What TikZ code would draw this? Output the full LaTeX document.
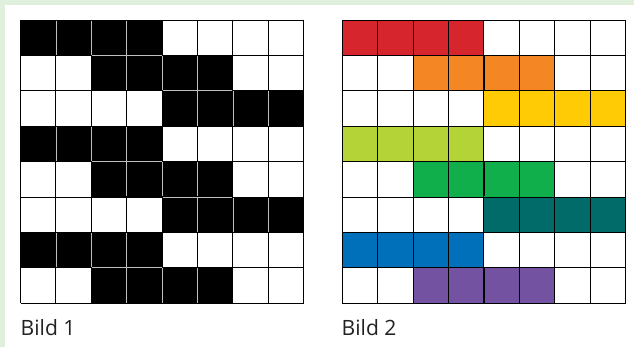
\documentclass[tikz,border=0pt]{standalone}
\usepackage{fontspec}
\setmainfont{Open Sans}

\definecolor{bgframe}{HTML}{E1F0DD}
\definecolor{pxred}{HTML}{D6252D}
\definecolor{pxorange}{HTML}{F48623}
\definecolor{pxyellow}{HTML}{FFCB05}
\definecolor{pxlime}{HTML}{B4D336}
\definecolor{pxgreen}{HTML}{10AF4B}
\definecolor{pxteal}{HTML}{006B68}
\definecolor{pxblue}{HTML}{0070BA}
\definecolor{pxpurple}{HTML}{7352A2}
\definecolor{captiongray}{HTML}{222222}

\begin{document}
\begin{tikzpicture}[x=0.03cm,y=-0.03cm]
  \useasboundingbox (0,0) rectangle (634,347);
  \fill[bgframe] (0,0) rectangle (634,347);
  \fill[white] (5,5) rectangle (634,347);
  % --- Helper: \pixelgrid{xshift}{c0,...,c7}{inner line colour} ---
  % 8x8 grid, row r has four filled cells starting at column 2*(r mod 3),
  % filled with the r-th colour of the list; lines between two filled
  % cells are drawn again in the inner line colour.
  \newcommand{\pixelgrid}[3]{%
    \begin{scope}[shift={(#1,20)}]
      \foreach \col [count=\r from 0] in {#2} {
        \pgfmathtruncatemacro{\s}{2*mod(\r,3)}
        \fill[\col] (\s*35.4,\r*35.4) rectangle ++(4*35.4,35.4);
      }
      \foreach \i in {0,...,8} {
        \draw[line width=0.8pt] (\i*35.4,0) -- (\i*35.4,283.2);
        \draw[line width=0.8pt] (0,\i*35.4) -- (283.2,\i*35.4);
      }
      \foreach \r in {0,...,7} {
        \pgfmathtruncatemacro{\s}{2*mod(\r,3)}
        \pgfmathtruncatemacro{\t}{2*mod(\r+1,3)}
        \pgfmathtruncatemacro{\lo}{max(\s,\t)}
        \pgfmathtruncatemacro{\hi}{min(\s,\t)+4}
        \foreach \k in {1,2,3}
          \draw[#3, line width=0.6pt] ({(\s+\k)*35.4},{\r*35.4+0.6}) -- ++(0,34.2);
        \ifnum\r<7 \ifnum\hi>\lo
          \draw[#3, line width=0.6pt] ({\lo*35.4+0.6},{(\r+1)*35.4}) -- ({\hi*35.4-0.6},{(\r+1)*35.4});
        \fi\fi
      }
    \end{scope}}
  % Black pattern, then the same pattern in colours.
  \pixelgrid{20.5}{black,black,black,black,black,black,black,black}{black!25}
  \pixelgrid{342.3}{pxred,pxorange,pxyellow,pxlime,pxgreen,pxteal,pxblue,pxpurple}{black}
  \node[anchor=base west, inner sep=0, text=captiongray, font=\fontsize{18}{21}\selectfont]
    (bild1) at (20.5,336) {Bild 1};
  \node[anchor=base west, inner sep=0, text=captiongray, font=\fontsize{18}{21}\selectfont]
    (bild2) at (341.5,336) {Bild 2};
\end{tikzpicture}
\end{document}
